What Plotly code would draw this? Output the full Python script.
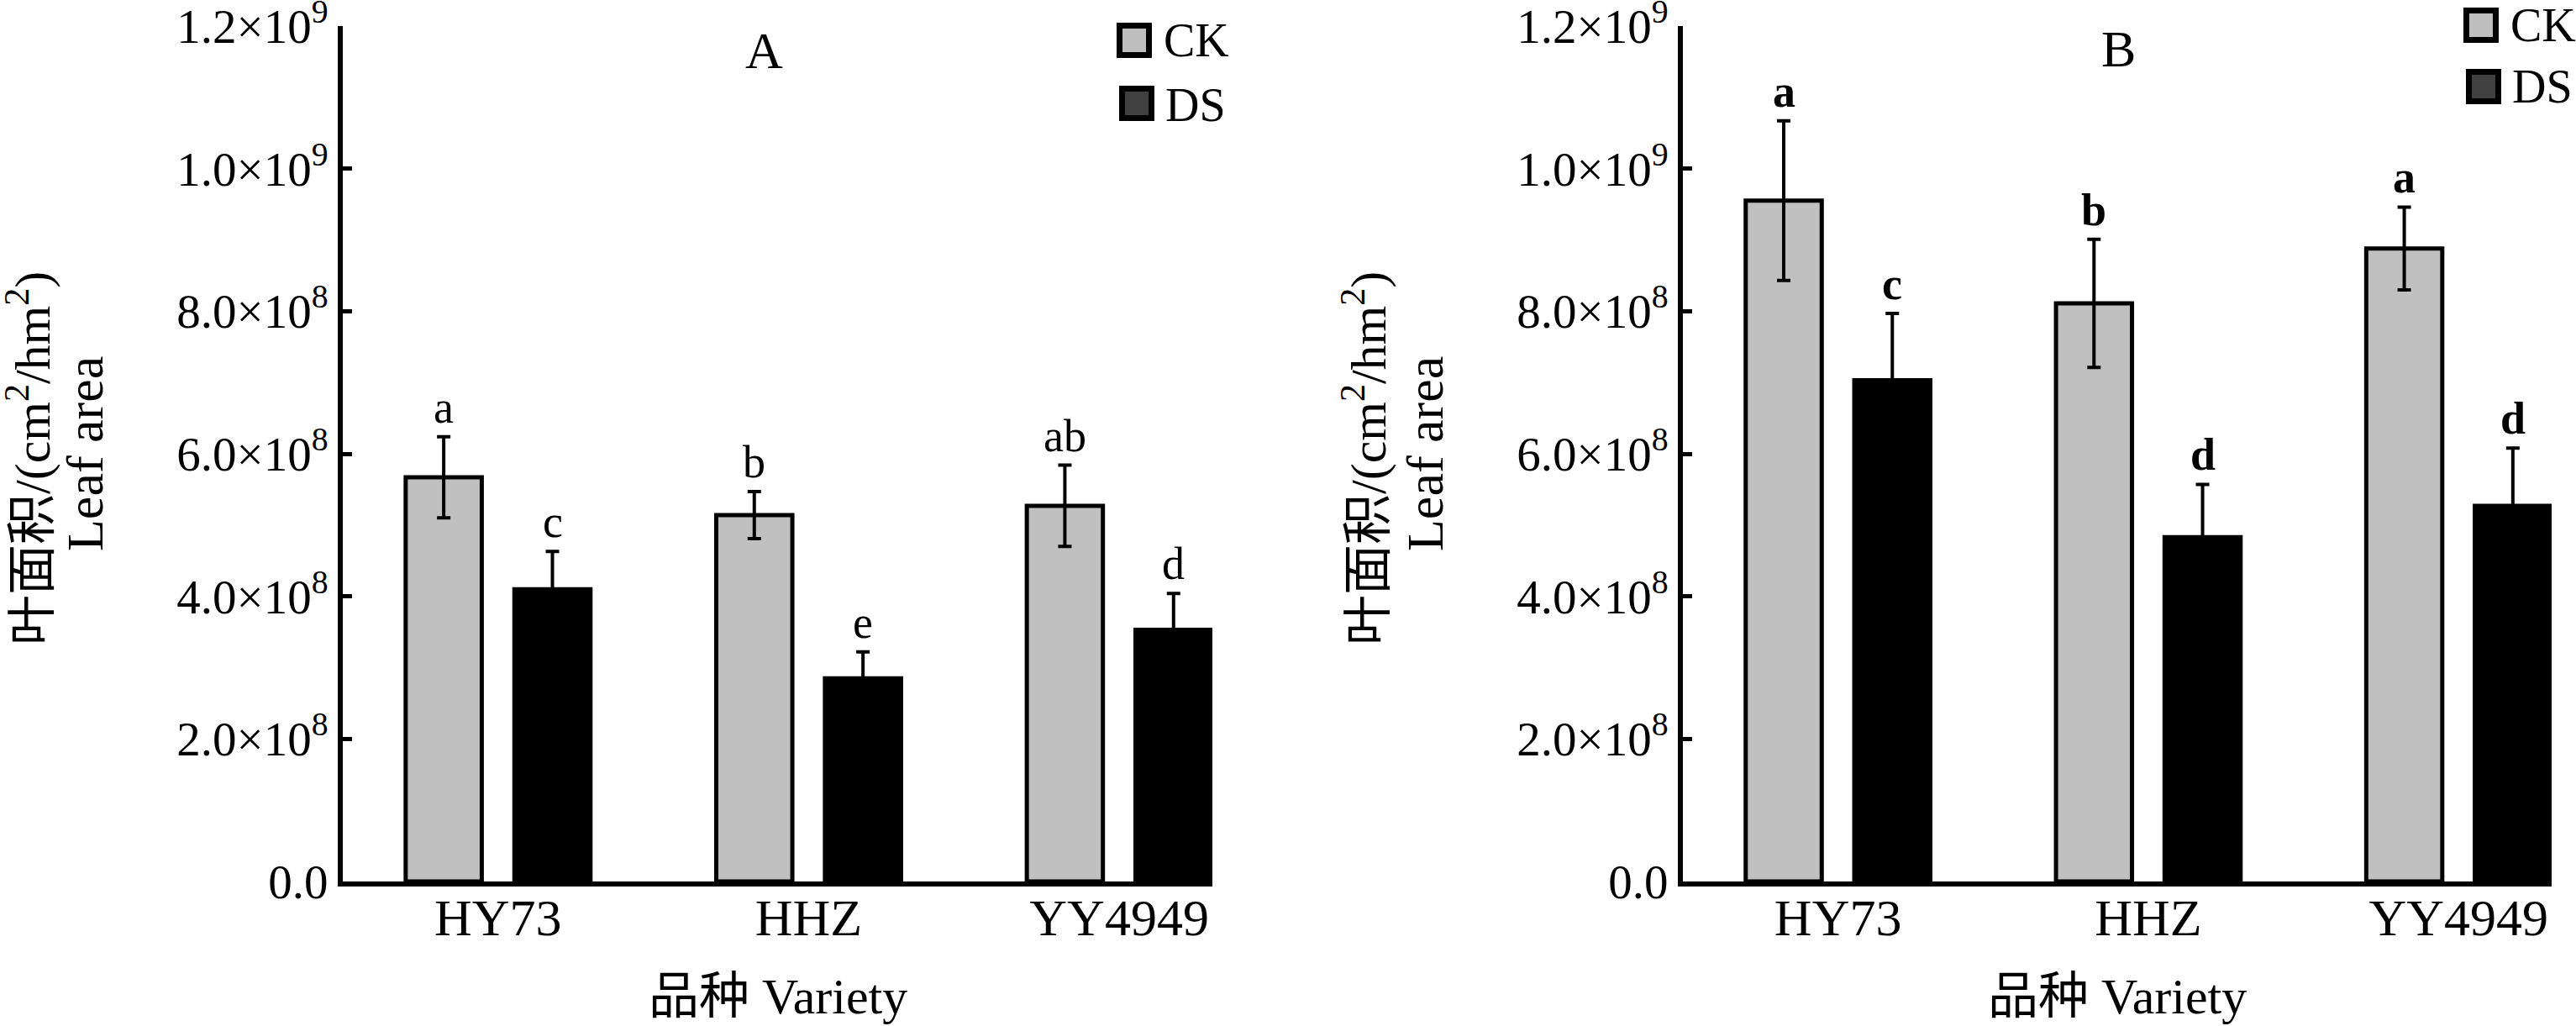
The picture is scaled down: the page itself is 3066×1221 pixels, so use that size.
import plotly.graph_objects as go

W, H = 3066, 1221

# data
varieties = ["HY73", "HHZ", "YY4949"]
ck_a = [5.67e8, 5.14e8, 5.27e8]
ck_a_err = [0.57e8, 0.33e8, 0.57e8]
ds_a = [4.10e8, 2.85e8, 3.53e8]
ds_a_err = [0.53e8, 0.37e8, 0.51e8]
ck_b = [9.55e8, 8.11e8, 8.88e8]
ck_b_err = [1.12e8, 0.90e8, 0.58e8]
ds_b = [7.03e8, 4.83e8, 5.27e8]
ds_b_err = [0.94e8, 0.74e8, 0.81e8]
letters_ck_a = ["a", "b", "ab"]
letters_ds_a = ["c", "e", "d"]
letters_ck_b = ["a", "b", "a"]
letters_ds_b = ["c", "d", "d"]
ytick_vals = [0, 2e8, 4e8, 6e8, 8e8, 1.0e9, 1.2e9]
ytick_text = ["0.0", "2.0×10<sup>8</sup>", "4.0×10<sup>8</sup>", "6.0×10<sup>8</sup>",
              "8.0×10<sup>8</sup>", "1.0×10<sup>9</sup>", "1.2×10<sup>9</sup>"]

SERIF = "Liberation Serif, Times New Roman, Noto Sans CJK SC, serif"
CK_COLOR = "#c0c0c0"
DS_COLOR = "#000000"
BARGAP = 0.3
BARGROUPGAP = 0.3
off = (1 - BARGAP) / 4


def px(x):
    return x / W


def py(y):
    return 1 - y / H


def note(x, y, text, size, **kw):
    d = dict(x=px(x), y=py(y), xref="paper", yref="paper", text=text,
             showarrow=False, xanchor="center", yanchor="middle",
             font=dict(family=SERIF, size=size, color="black"))
    d.update(kw)
    return d


fig = go.Figure()

panels = [
    ("x", "y", ck_a, ck_a_err, ds_a, ds_a_err, letters_ck_a, letters_ds_a),
    ("x2", "y2", ck_b, ck_b_err, ds_b, ds_b_err, letters_ck_b, letters_ds_b),
]

annotations = []
for k, (xa, ya, ck, cke, ds, dse, lck, lds) in enumerate(panels):
    for name, vals, errs, col in [("CK", ck, cke, CK_COLOR), ("DS", ds, dse, DS_COLOR)]:
        fig.add_trace(go.Bar(
            x=varieties, y=vals, name=name, xaxis=xa, yaxis=ya,
            marker=dict(color=col, line=dict(color="black", width=5)),
            error_y=dict(type="data", array=errs, visible=True,
                         color="black", thickness=4, width=8),
            showlegend=False,
        ))
    for sign, vals, errs, labs in [(-1, ck, cke, lck), (1, ds, dse, lds)]:
        for i, (v, e, t) in enumerate(zip(vals, errs, labs)):
            annotations.append(dict(
                x=i + sign * off, y=v + e, xref=xa, yref=ya, text=t,
                showarrow=False, xanchor="center", yanchor="bottom", yshift=3,
                font=dict(family=SERIF, size=54, color="black",
                          weight="bold" if k == 1 else "normal"),
            ))

axis_common = dict(showline=True, linewidth=6, linecolor="black",
                   showgrid=False, zeroline=False, mirror=False, automargin=False)

yaxis_style = dict(axis_common, range=[0, 1.2e9], tickvals=ytick_vals, ticktext=ytick_text,
                   ticks="inside", ticklen=11, tickwidth=5, tickcolor="black",
                   ticklabeloverflow="allow",
                   tickfont=dict(family=SERIF, size=57, color="black"))
xaxis_style = dict(axis_common, range=[-0.5, 2.3], ticks="", ticklabelstandoff=-16,
                   tickfont=dict(family=SERIF, size=62, color="black"))

y_dom = [py(1049), py(31)]

# axis titles, panel letters
for cx, line1_x, line2_x in [((408 + 1443) / 2, 34, 101), ((2003 + 3037) / 2, 1624, 1696)]:
    annotations.append(note(cx, 1186, "品种 Variety", 60))
    annotations.append(note(line1_x, 546, "叶面积/(cm<sup>2</sup>/hm<sup>2</sup>)", 60,
                            textangle=-90))
    annotations.append(note(line2_x, 540, "Leaf area", 62, textangle=-90))

annotations.append(note(909, 60, "A", 62))
annotations.append(note(2521, 58, "B", 62))

# hand-drawn legend boxes like the original
shapes = []
legend_items = [
    (1329, 27, 1383, 48, "CK", "#bebebe"),
    (1332, 102, 1385, 125, "DS", "#404040"),
    (2932, 9, 2986, 30, "CK", "#bebebe"),
    (2935, 82, 2988, 103, "DS", "#404040"),
]
for bx, by, tx, ty, label, fill in legend_items:
    shapes.append(dict(type="rect", xref="paper", yref="paper",
                       x0=px(bx + 3.5), x1=px(bx + 42 - 3.5),
                       y0=py(by + 3.5), y1=py(by + 42 - 3.5),
                       fillcolor=fill, line=dict(color="black", width=7)))
    annotations.append(note(tx, ty, label, 56, xanchor="left"))

fig.update_layout(
    width=W, height=H,
    margin=dict(l=0, r=0, t=0, b=0, autoexpand=False),
    paper_bgcolor="white", plot_bgcolor="white",
    barmode="group", bargap=BARGAP, bargroupgap=BARGROUPGAP,
    xaxis=dict(xaxis_style, domain=[px(408), px(1443)], anchor="y"),
    yaxis=dict(yaxis_style, domain=y_dom, anchor="x"),
    xaxis2=dict(xaxis_style, domain=[px(2003), px(3037)], anchor="y2"),
    yaxis2=dict(yaxis_style, domain=y_dom, anchor="x2"),
    annotations=annotations,
    shapes=shapes,
)

fig.write_html("out.html", config={"displayModeBar": False},
               post_script="document.body.style.margin='0';")
